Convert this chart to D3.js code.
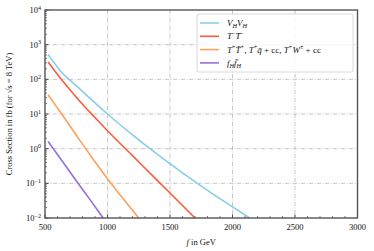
<!DOCTYPE html>
<html>
<head>
<meta charset="utf-8">
<script src="https://cdn.jsdelivr.net/npm/d3@7"></script>
<style>
  body { margin: 0; background: #fff; }
  svg text { font-family: 'Liberation Serif', 'DejaVu Serif', serif; fill: #111; }
</style>
</head>
<body>
<div id="chart"></div>
<script>
// Data (f in GeV, cross section in fb)
const fVV = [525, 560, 600, 625, 700, 800, 900, 1000, 1200, 1400, 1600, 1800, 2000, 2137];
const sigmaVV = [525, 347, 224, 170, 95, 44.7, 20.9, 10, 2.5, 0.68, 0.2, 0.063, 0.021, 0.01];

const fTmTm = [525, 600, 700, 800, 900, 1000, 1200, 1400, 1600, 1700];
const sigmaTmTm = [316, 138, 50, 19, 7.9, 3.3, 0.63, 0.12, 0.023, 0.01];

const fTp = [525, 600, 700, 800, 900, 1000, 1100, 1200, 1250];
const sigmaTp = [36, 14.8, 4.5, 1.35, 0.42, 0.135, 0.047, 0.0166, 0.01];

const fFF = [525, 650, 750, 850, 965];
const sigmaFF = [1.6, 0.38, 0.119, 0.038, 0.01];

const xTicks = [500, 1000, 1500, 2000, 2500, 3000];
const yExponents = [-2, -1, 0, 1, 2, 3, 4];

const colors = ['#87ceeb', '#ff5a3c', '#ffa15a', '#9370db'];

// Dimensions
const dimensions = {
  width: 374,
  height: 251,
  margin: { top: 10, bottom: 33, left: 45, right: 16.5 }
};
dimensions.ctrWidth = dimensions.width - dimensions.margin.left - dimensions.margin.right;
dimensions.ctrHeight = dimensions.height - dimensions.margin.top - dimensions.margin.bottom;

const svg = d3.select('#chart')
  .append('svg')
  .attr('width', dimensions.width)
  .attr('height', dimensions.height);

const ctr = svg.append('g')
  .attr('transform', `translate(${dimensions.margin.left}, ${dimensions.margin.top})`);

// Scales
const xScale = d3.scaleLinear()
  .domain([500, 3000])
  .range([0, dimensions.ctrWidth]);

const yScale = d3.scaleLog()
  .domain([1e-2, 1e4])
  .range([dimensions.ctrHeight, 0]);

// Grid
const gridDash = '4,1.5,1,1.5';
ctr.append('g')
  .selectAll('line')
  .data(xTicks.slice(1, -1))
  .join('line')
  .attr('x1', d => xScale(d)).attr('x2', d => xScale(d))
  .attr('y1', 0).attr('y2', dimensions.ctrHeight)
  .attr('stroke', '#b8b8b8')
  .attr('stroke-width', 0.8)
  .attr('stroke-dasharray', gridDash);

ctr.append('g')
  .selectAll('line')
  .data(yExponents.slice(1, -1))
  .join('line')
  .attr('x1', 0).attr('x2', dimensions.ctrWidth)
  .attr('y1', d => yScale(Math.pow(10, d))).attr('y2', d => yScale(Math.pow(10, d)))
  .attr('stroke', '#b8b8b8')
  .attr('stroke-width', 0.8)
  .attr('stroke-dasharray', gridDash);

// Lines
const series = [
  { f: fVV, s: sigmaVV },
  { f: fTmTm, s: sigmaTmTm },
  { f: fTp, s: sigmaTp },
  { f: fFF, s: sigmaFF }
];

const lineGenerator = d3.line()
  .x(d => xScale(d[0]))
  .y(d => yScale(d[1]))
  .curve(d3.curveMonotoneX);

series.forEach((sr, i) => {
  ctr.append('path')
    .datum(sr.f.map((f, j) => [f, sr.s[j]]))
    .attr('d', lineGenerator)
    .attr('fill', 'none')
    .attr('stroke', colors[i])
    .attr('stroke-width', 1.6);
});

// Ticks (inward)
const xMinor = d3.range(600, 3000, 100).filter(d => d % 500 !== 0);
ctr.append('g')
  .selectAll('line')
  .data(xMinor)
  .join('line')
  .attr('x1', d => xScale(d)).attr('x2', d => xScale(d))
  .attr('y1', dimensions.ctrHeight).attr('y2', dimensions.ctrHeight - 2)
  .attr('stroke', '#222').attr('stroke-width', 0.6);

ctr.append('g')
  .selectAll('line')
  .data(xTicks)
  .join('line')
  .attr('x1', d => xScale(d)).attr('x2', d => xScale(d))
  .attr('y1', dimensions.ctrHeight).attr('y2', dimensions.ctrHeight - 3.5)
  .attr('stroke', '#222').attr('stroke-width', 0.8);

const yMinor = [];
yExponents.slice(0, -1).forEach(e => {
  for (let k = 2; k <= 9; k++) yMinor.push(k * Math.pow(10, e));
});
ctr.append('g')
  .selectAll('line')
  .data(yMinor)
  .join('line')
  .attr('x1', 0).attr('x2', 2)
  .attr('y1', d => yScale(d)).attr('y2', d => yScale(d))
  .attr('stroke', '#222').attr('stroke-width', 0.6);

ctr.append('g')
  .selectAll('line')
  .data(yExponents)
  .join('line')
  .attr('x1', 0).attr('x2', 3.5)
  .attr('y1', d => yScale(Math.pow(10, d))).attr('y2', d => yScale(Math.pow(10, d)))
  .attr('stroke', '#222').attr('stroke-width', 0.8);

// Spines
ctr.append('rect')
  .attr('width', dimensions.ctrWidth)
  .attr('height', dimensions.ctrHeight)
  .attr('fill', 'none')
  .attr('stroke', '#555')
  .attr('stroke-width', 1.4);

// Tick labels
ctr.append('g')
  .selectAll('text')
  .data(xTicks)
  .join('text')
  .attr('x', d => xScale(d))
  .attr('y', dimensions.ctrHeight + 12)
  .attr('text-anchor', 'middle')
  .attr('font-size', '8.5px')
  .text(d => d);

const yLabels = ctr.append('g')
  .selectAll('text')
  .data(yExponents)
  .join('text')
  .attr('x', -4)
  .attr('y', d => yScale(Math.pow(10, d)) + 3)
  .attr('text-anchor', 'end')
  .attr('font-size', '8.5px');
yLabels.append('tspan').text('10');
yLabels.append('tspan')
  .attr('dy', -3.5)
  .attr('font-size', '6px')
  .text(d => d < 0 ? '\u2212' + (-d) : d);

// Axis labels
const xLabel = svg.append('text')
  .attr('x', dimensions.margin.left + dimensions.ctrWidth / 2)
  .attr('y', dimensions.height - 6)
  .attr('text-anchor', 'middle')
  .attr('font-size', '8.5px');
xLabel.append('tspan').attr('font-style', 'italic').text('f');
xLabel.append('tspan').text(' in GeV');

svg.append('text')
  .attr('x', -(dimensions.margin.top + dimensions.ctrHeight / 2))
  .attr('y', 12)
  .attr('text-anchor', 'middle')
  .attr('transform', 'rotate(-90)')
  .attr('font-size', '8.5px')
  .text('Cross Section in fb (for \u221As = 8 TeV)');

// Legend
const legendItems = [
  [['V', 'i'], ['H', 'sub'], ['V', 'i'], ['H', 'sub']],
  [['T', 'i'], ['\u2212', 'sup'], ['T\u0304', 'i'], ['\u2212', 'sup']],
  [['T', 'i'], ['+', 'sup'], ['T\u0304', 'i'], ['+', 'sup'], [', ', 'r'], ['T', 'i'], ['+', 'sup'],
   ['q\u0304', 'i'], [' + cc, ', 'r'], ['T', 'i'], ['+', 'sup'], ['W', 'i'], ['\u00b1', 'sup'], [' + cc', 'r']],
  [['f', 'i'], ['H', 'sub'], ['f\u0304', 'i'], ['H', 'sub']]
];

const legend = svg.append('g').attr('transform', 'translate(197, 14)');
legend.append('rect')
  .attr('width', 156)
  .attr('height', 58)
  .attr('rx', 2)
  .attr('fill', 'white')
  .attr('fill-opacity', 0.85)
  .attr('stroke', '#d0d0d0')
  .attr('stroke-width', 0.8);

legendItems.forEach((parts, i) => {
  const y = 9 + i * 13.3;
  legend.append('line')
    .attr('x1', 3).attr('x2', 22)
    .attr('y1', y).attr('y2', y)
    .attr('stroke', colors[i])
    .attr('stroke-width', 1.6);
  const t = legend.append('text')
    .attr('x', 30)
    .attr('y', y + 3)
    .attr('font-size', '9px');
  let shift = 0;
  parts.forEach(([str, kind]) => {
    const sp = t.append('tspan').text(str);
    let target = 0;
    if (kind === 'sub') { target = 2; sp.attr('font-size', '6.3px').attr('font-style', 'italic'); }
    else if (kind === 'sup') { target = -3.3; sp.attr('font-size', '6.3px'); }
    else if (kind === 'i') sp.attr('font-style', 'italic');
    if (target !== shift) sp.attr('dy', target - shift);
    shift = target;
  });
});
</script>
</body>
</html>
